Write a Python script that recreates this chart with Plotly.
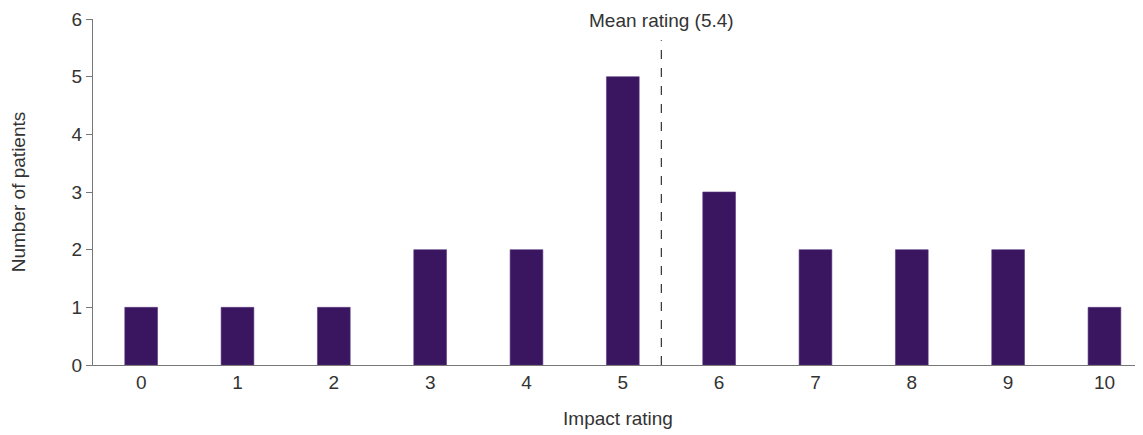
import plotly.graph_objects as go

ratings = [0, 1, 2, 3, 4, 5, 6, 7, 8, 9, 10]
patients = [1, 1, 1, 2, 2, 5, 3, 2, 2, 2, 1]
mean_rating = 5.4
tick_labels = [str(r) for r in ratings]

FAM = "Liberation Sans, Arial, sans-serif"
TXT = "#333333"

fig = go.Figure()
fig.add_trace(go.Bar(
    x=ratings, y=patients, width=0.34,
    marker=dict(color="#3a1560", line=dict(color="#5a3a80", width=0.6)),
))
fig.add_shape(type="line", x0=mean_rating, x1=mean_rating, y0=0, y1=5.63,
              xref="x", yref="y", line=dict(color="#333333", width=1.2, dash="dash"))
fig.add_annotation(x=mean_rating, y=5.98, xref="x", yref="y", text=f"Mean rating ({mean_rating})",
                   showarrow=False, font=dict(family=FAM, size=19, color=TXT), yanchor="middle")
fig.update_layout(
    width=1135, height=427,
    margin=dict(l=85, r=0, t=11, b=70),
    plot_bgcolor="white", paper_bgcolor="white",
    font=dict(family=FAM, size=16, color=TXT),
    showlegend=False,
    xaxis=dict(range=[-0.5, 10.4], tickvals=ratings, ticktext=tick_labels,
               tickfont=dict(family=FAM, size=19, color=TXT),
               showline=True, linecolor="#777777", linewidth=1.2, showgrid=False, zeroline=False,
               ticks="", title=dict(text="Impact rating", standoff=19,
                                    font=dict(family=FAM, size=19, color=TXT))),
    yaxis=dict(range=[0, 6], dtick=1, showline=True, linecolor="#777777", linewidth=1.2,
               tickfont=dict(family=FAM, size=19, color=TXT),
               showgrid=False, zeroline=False, ticks="outside", ticklen=6, tickcolor="#777777",
               title=dict(text="Number of patients", standoff=40,
                          font=dict(family=FAM, size=19, color=TXT))),
)
fig.write_html("out.html")
